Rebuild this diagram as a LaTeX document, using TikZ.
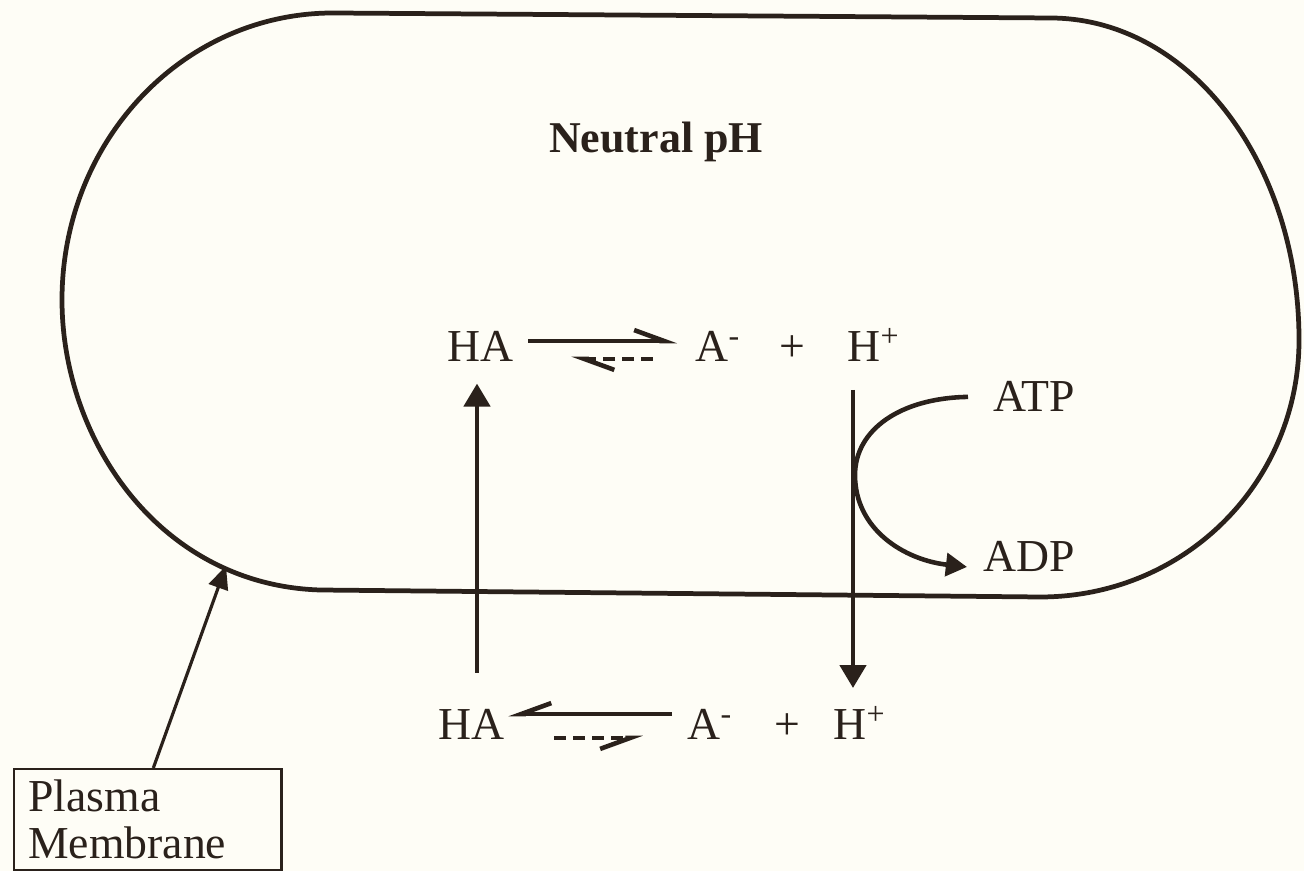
\documentclass[tikz,border=0pt]{standalone}
\usepackage{fontspec}
\setmainfont{Liberation Serif}
\definecolor{Ink}{HTML}{2A211B}
\definecolor{Paper}{HTML}{FEFDF6}
\usetikzlibrary{arrows.meta}

\begin{document}
\begin{tikzpicture}[x=0.01cm,y=-0.01cm,
  every node/.style={inner sep=0pt,text=Ink,font=\fontsize{13}{13.4}\selectfont},
  chem/.style={anchor=base west},
  fwd/.style={line width=1.3pt,Ink,-{Straight Barb[harpoon,length=8.5pt,width=6.2pt]}},
  back/.style={fwd,dash pattern=on 3.4pt off 2pt},
  flux/.style={line width=1pt,Ink,-{Triangle[length=6.5pt,width=7.5pt]}}]
  \fill[Paper] (0,0) rectangle (1304,871);
  \useasboundingbox (0,0) rectangle (1304,871);
  \draw[line width=1.35pt,Ink] (333,13) -- (1050,18) .. controls (1189,18) and (1299,162) .. (1299,340)
    .. controls (1299,482) and (1185,597) .. (1040,597) -- (320,590)
    .. controls (160,585) and (62,440) .. (62,300) .. controls (62,141) and (183,13) .. (333,13) -- cycle;
  \node[anchor=base,font=\bfseries\fontsize{12.5}{14}\selectfont] (nph) at (656,153) {Neutral pH};
  \node[chem] (ha1) at (447,362) {HA};
  \node[chem] (am1) at (695,362) {A\textsuperscript{-}};
  \node[anchor=base] (pl1) at (792,362) {+};
  \node[chem] (hp1) at (847,362) {H\textsuperscript{+}};
  \node[chem] (ha2) at (438,740) {HA};
  \node[chem] (am2) at (687,740) {A\textsuperscript{-}};
  \node[anchor=base] (pl2) at (787,740) {+};
  \node[chem] (hp2) at (833,740) {H\textsuperscript{+}};
  \node[chem] (atp) at (993,412) {ATP};
  \node[chem] (adp) at (983,572) {ADP};
  \node[draw=Ink,line width=0.7pt,anchor=north west,align=left,text width=2.39cm,inner xsep=0.14cm,inner ysep=0.1cm,minimum height=1.01cm] (pm) at (13,768) {Plasma\\Membrane};
  \draw[fwd] ([xshift=0.14cm,yshift=0.21cm]ha1.base east) -- ([xshift=-0.18cm,yshift=0.21cm]am1.base west);
  \draw[back] ([xshift=-0.42cm,yshift=0.03cm]am1.base west) -- ([xshift=0.57cm,yshift=0.03cm]ha1.base east);
  \draw[fwd,-{Straight Barb[harpoon,swap,length=8.5pt,width=6.2pt]}] ([xshift=-0.15cm,yshift=0.26cm]am2.base west) -- ([xshift=0.03cm,yshift=0.26cm]ha2.base east);
  \draw[back,-{Straight Barb[harpoon,swap,length=8.5pt,width=6.2pt]}] ([xshift=0.49cm,yshift=0.02cm]ha2.base east) -- ([xshift=-0.44cm,yshift=0.02cm]am2.base west);
  \coordinate (inlet) at (477,673);
  \coordinate (pump) at (853,390);
  \coordinate (mtip) at (226,566);
  \draw[flux,shorten >=0.21cm] (inlet) -- (inlet |- ha1.south);
  \draw[flux,shorten >=0.18cm] (pump) -- (pump |- hp2.north);
  \draw[line width=1.3pt,Ink,-{Triangle[length=6pt,width=6.5pt]}] ([xshift=-0.25cm]atp.west)
    .. controls (900,398) and (855,430) .. (855,475)
    .. controls (855,530) and (905,560) .. ([xshift=-0.16cm,yshift=-0.1cm]adp.west);
  \draw[line width=0.9pt,Ink,-{Triangle[length=6.5pt,width=5.7pt]}] ([xshift=0.055cm]pm.north) -- (mtip);
\end{tikzpicture}
\end{document}
